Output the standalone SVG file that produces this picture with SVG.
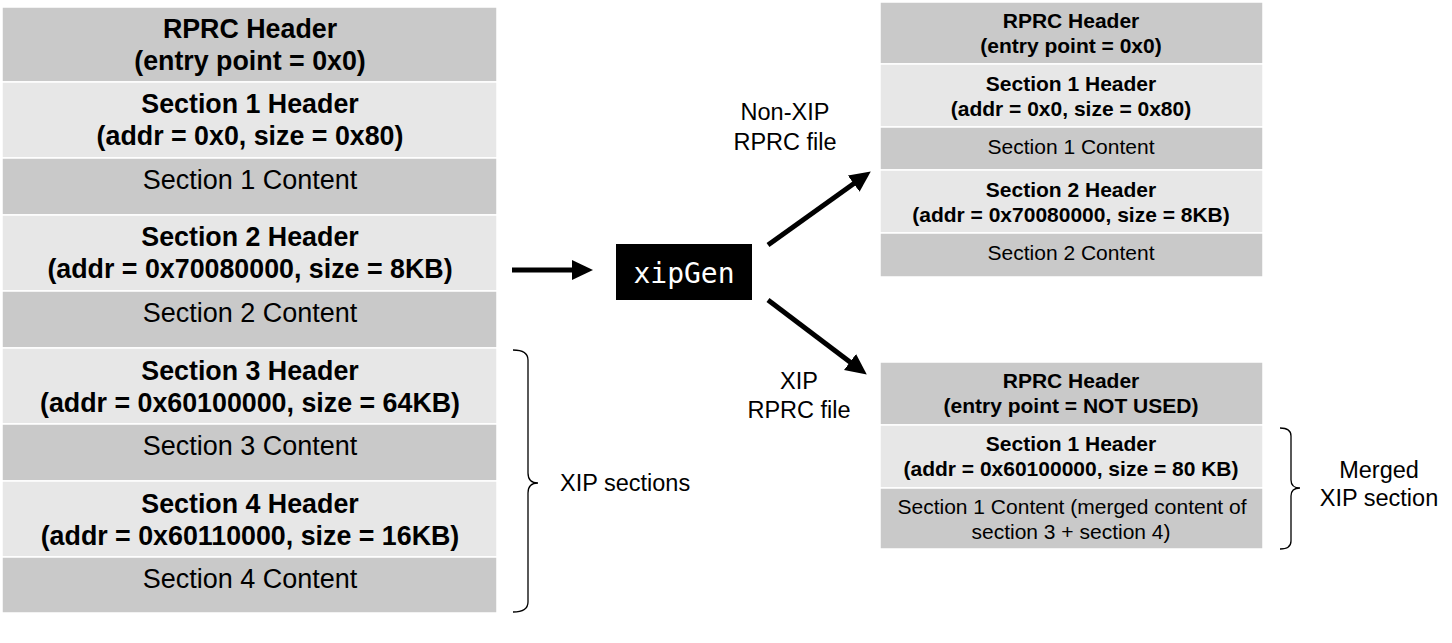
<svg xmlns="http://www.w3.org/2000/svg" width="1452" height="643" viewBox="0 0 1452 643">
<style>
.dk{fill:#c9c9c9;stroke:#ffffff;stroke-width:1.5}
.lt{fill:#e7e7e7;stroke:#ffffff;stroke-width:1.5}
.b24{font-family:"Liberation Sans",Arial,sans-serif;font-size:26.8px;font-weight:bold;fill:#000;text-anchor:middle}
.r24{font-family:"Liberation Sans",Arial,sans-serif;font-size:27px;fill:#000;text-anchor:middle}
.b19{font-family:"Liberation Sans",Arial,sans-serif;font-size:21px;font-weight:bold;fill:#000;text-anchor:middle}
.r19{font-family:"Liberation Sans",Arial,sans-serif;font-size:21px;fill:#000;text-anchor:middle}
.lbl{font-family:"Liberation Sans",Arial,sans-serif;font-size:23.5px;fill:#000;text-anchor:middle}
.arr{stroke:#000;stroke-width:5;fill:none;marker-end:url(#ah)}
.brace{stroke:#000;stroke-width:1.3;fill:none}
</style>
<defs>
<marker id="ah" markerUnits="userSpaceOnUse" markerWidth="22" markerHeight="22" refX="14" refY="10" orient="auto">
<path d="M0,0 L21,10 L0,20 z" fill="#000"/>
</marker>
</defs>
<rect width="1452" height="643" fill="#ffffff"/>

<g id="left-stack">
<g id="l-rprc"><rect class="dk" x="2" y="7" width="495" height="75"/>
<text class="b24" x="250" y="38">RPRC Header</text><text class="b24" x="250" y="70">(entry point = 0x0)</text></g>
<g id="l-s1h"><rect class="lt" x="2" y="82" width="495" height="76"/>
<text class="b24" x="250" y="113">Section 1 Header</text><text class="b24" x="250" y="145">(addr = 0x0, size = 0x80)</text></g>
<g id="l-s1c"><rect class="dk" x="2" y="158" width="495" height="57"/>
<text class="r24" x="250" y="189">Section 1 Content</text></g>
<g id="l-s2h"><rect class="lt" x="2" y="215" width="495" height="76"/>
<text class="b24" x="250" y="246">Section 2 Header</text><text class="b24" x="250" y="278">(addr = 0x70080000, size = 8KB)</text></g>
<g id="l-s2c"><rect class="dk" x="2" y="291" width="495" height="57"/>
<text class="r24" x="250" y="322">Section 2 Content</text></g>
<g id="l-s3h"><rect class="lt" x="2" y="348" width="495" height="76"/>
<text class="b24" x="250" y="380">Section 3 Header</text><text class="b24" x="250" y="412">(addr = 0x60100000, size = 64KB)</text></g>
<g id="l-s3c"><rect class="dk" x="2" y="424" width="495" height="57"/>
<text class="r24" x="250" y="455">Section 3 Content</text></g>
<g id="l-s4h"><rect class="lt" x="2" y="481" width="495" height="76"/>
<text class="b24" x="250" y="513">Section 4 Header</text><text class="b24" x="250" y="545">(addr = 0x60110000, size = 16KB)</text></g>
<g id="l-s4c"><rect class="dk" x="2" y="557" width="495" height="56"/>
<text class="r24" x="250" y="588">Section 4 Content</text></g>
</g>

<g id="xip-brace">
<path class="brace" d="M513,350 Q528,350 528,360 L528,473 Q528,483 538,483 Q528,483 528,493 L528,602 Q528,612 513,612"/>
<text class="lbl" x="560" y="491" style="text-anchor:start">XIP sections</text>
</g>

<g id="xipgen">
<rect x="616" y="244" width="136" height="56" fill="#000"/>
<text x="684" y="283" style="font-family:'DejaVu Sans Mono',monospace;font-size:28px;fill:#fff;text-anchor:middle">xipGen</text>
</g>

<g id="connectors">
<line class="arr" x1="512" y1="270" x2="586" y2="270"/>
<line class="arr" x1="768" y1="245" x2="865.1" y2="175.5"/>
<line class="arr" x1="768" y1="300" x2="861.2" y2="370.4"/>
</g>

<g id="labels">
<text class="lbl" x="785" y="120">Non-XIP</text>
<text class="lbl" x="785" y="150">RPRC file</text>
<text class="lbl" x="799" y="389">XIP</text>
<text class="lbl" x="799" y="418">RPRC file</text>
</g>

<g id="nonxip-stack">
<g id="n-rprc"><rect class="dk" x="880" y="2" width="383" height="62"/>
<text class="b19" x="1071" y="28">RPRC Header</text><text class="b19" x="1071" y="53">(entry point = 0x0)</text></g>
<g id="n-s1h"><rect class="lt" x="880" y="64" width="383" height="63"/>
<text class="b19" x="1071" y="91">Section 1 Header</text><text class="b19" x="1071" y="116">(addr = 0x0, size = 0x80)</text></g>
<g id="n-s1c"><rect class="dk" x="880" y="127" width="383" height="43"/>
<text class="r19" x="1071" y="154">Section 1 Content</text></g>
<g id="n-s2h"><rect class="lt" x="880" y="170" width="383" height="63"/>
<text class="b19" x="1071" y="197">Section 2 Header</text><text class="b19" x="1071" y="222">(addr = 0x70080000, size = 8KB)</text></g>
<g id="n-s2c"><rect class="dk" x="880" y="233" width="383" height="44"/>
<text class="r19" x="1071" y="260">Section 2 Content</text></g>
</g>

<g id="xip-stack">
<g id="x-rprc"><rect class="dk" x="880" y="362" width="383" height="63"/>
<text class="b19" x="1071" y="388">RPRC Header</text><text class="b19" x="1071" y="413">(entry point = NOT USED)</text></g>
<g id="x-s1h"><rect class="lt" x="880" y="425" width="383" height="63"/>
<text class="b19" x="1071" y="451">Section 1 Header</text><text class="b19" x="1071" y="476">(addr = 0x60100000, size = 80 KB)</text></g>
<g id="x-s1c"><rect class="dk" x="880" y="488" width="383" height="61"/>
<text class="r19" x="1072" y="514">Section 1 Content (merged  content of</text><text class="r19" x="1071" y="539">section 3 + section 4)</text></g>
</g>

<g id="merged-brace">
<path class="brace" d="M1280,428 Q1291,428 1291,436 L1291,480 Q1291,488 1300,488 Q1291,488 1291,496 L1291,541 Q1291,549 1280,549"/>
<text class="lbl" x="1379" y="478">Merged</text>
<text class="lbl" x="1379" y="506">XIP section</text>
</g>
</svg>
